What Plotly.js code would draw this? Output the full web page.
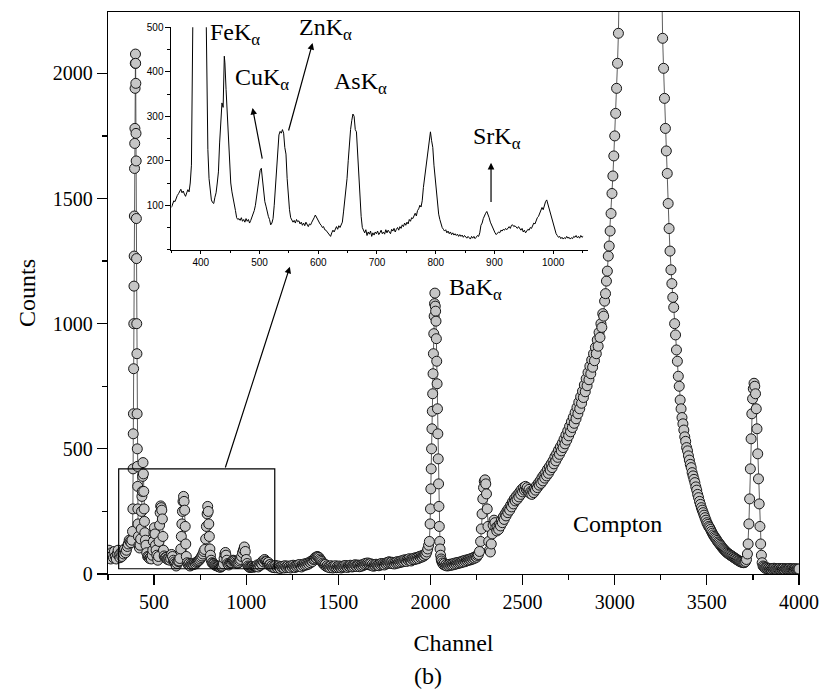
<!DOCTYPE html>
<html>
<head>
<meta charset="utf-8">
<script src="https://cdn.plot.ly/plotly-3.0.1.min.js"></script>
<style>html,body{margin:0;padding:0;background:#fff;}#chart{width:822px;height:690px;}</style>
</head>
<body>
<div id="chart"></div>
<script>
// ---- Main spectrum: [channel, counts] ----
const mainSpectrum = [
[250,80],[255,95],[260,70],[265,60],[270,85],[275,75],[280,65],[285,90],[290,70],[295,60],[300,80],[305,95],[310,75],[315,65],[320,85],[325,70],[330,90],[335,80],[340,100],[345,85],[350,95],[355,110],[360,120],[365,135],[370,130],[375,125],[380,135],[383,170],[385,260],
[386,420],[387,560],[388,640],[389,820],[390,1000],[391,1150],[392,1270],[393,1430],[394,1620],[395,1720],[396,1780],[397,1940],[398,2040],[399,2077],[400,2040],[401,1960],[402,1760],[403,1650],[404,1420],[405,1260],[406,1000],[407,880],[408,640],[409,500],[410,430],[411,350],[412,260],
[413,200],[415,150],[418,115],[421,104],[424,115],[427,140],[430,180],[432,250],[434,310],[436,330],[438,390],[440,445],[442,400],[444,330],[446,260],[448,210],[450,165],[453,135],[456,115],[460,85],[465,70],[470,68],[475,62],[480,66],[485,60],[490,75],[493,95],[496,130],[499,165],[502,185],[505,160],[508,115],[511,95],[515,75],[520,55],[524,70],[527,130],[530,195],[533,245],[536,272],[539,265],[542,255],[545,220],[548,150],[551,95],[555,72],[560,65],[565,66],[570,60],[575,58],[580,62],[585,55],[590,62],[595,78],[600,70],[605,55],[610,48],[615,42],[620,32],[625,42],[630,50],[635,52],[640,62],[645,100],[648,150],[651,200],[654,250],[657,290],[660,310],[663,290],[666,255],[669,190],[672,120],
[675,70],[680,45],[685,38],[690,42],[695,32],[700,40],[705,36],[710,41],[715,38],[720,44],[725,40],[730,46],[735,49],[740,52],[745,55],[750,60],[755,66],[760,72],[765,80],[770,90],[775,98],[780,140],[784,190],[788,240],[791,270],[794,250],[797,200],[800,150],[803,100],[806,75],[810,55],[815,45],[820,42],[825,40],[830,36],[835,34],[840,33],[845,31],[850,30],[855,28],[860,27],[865,30],[870,32],[876,40],[880,62],[884,80],[887,86],[890,75],[895,55],[900,42],[905,36],[910,42],[915,45],[920,46],[925,52],[930,55],[935,53],[940,50],[945,45],[950,42],[955,43],[960,46],[965,52],[970,58],[975,70],[980,85],[985,96],[990,108],[995,90],[1000,58],[1005,42],[1010,32],[1015,28],[1020,26],[1025,27],[1030,28],[1035,30],[1040,27],[1045,29],[1050,30],
[1055,30],[1060,36],[1065,28],[1070,38],[1075,34],[1080,44],[1085,40],[1090,52],[1095,48],[1100,58],[1105,52],[1110,50],[1115,44],[1120,46],[1125,36],[1130,38],[1135,30],[1140,33],[1145,26],[1150,31],[1155,25],[1160,34],[1165,28],[1170,24],[1175,32],[1180,27],[1185,22],[1190,30],[1195,26],[1200,31],[1205,24],[1210,33],[1215,28],[1220,25],[1225,32],[1230,27],[1235,30],[1240,24],[1245,33],[1250,28],[1255,35],[1260,30],[1265,26],[1270,33],[1275,29],[1280,36],[1285,31],[1290,38],[1295,32],[1300,28],[1305,36],[1310,33],[1315,40],[1320,35],[1325,42],[1330,37],[1335,44],[1340,40],[1345,48],[1350,45],[1355,52],[1360,50],[1365,58],[1370,60],[1375,66],[1380,64],[1385,70],[1390,68],[1395,66],[1400,60],[1405,55],[1410,50],[1415,44],[1420,40],[1425,36],[1430,38],[1435,30],[1440,33],[1445,27],[1450,30],[1455,25],[1460,33],[1465,28],[1470,24],[1475,31],[1480,27],[1485,33],[1490,25],[1495,30],[1500,26],[1505,32],[1510,28],[1515,24],[1520,30],[1525,27],[1530,33],[1535,28],[1540,34],[1545,29],[1550,26],[1555,32],[1560,30],[1565,35],[1570,31],[1575,28],[1580,34],[1585,30],[1590,37],[1595,33],[1600,30],[1605,36],[1610,34],[1615,29],[1620,35],[1625,31],[1630,37],[1635,34],[1640,40],[1645,37],[1650,43],[1655,39],[1660,44],[1665,40],[1670,36],[1675,41],[1680,34],[1685,38],[1690,31],[1695,36],[1700,33],[1705,39],[1710,34],[1715,37],[1720,33],[1725,40],[1730,36],[1735,42],[1740,38],[1745,41],[1750,36],[1755,43],[1760,40],[1765,46],[1770,43],[1775,49],[1780,46],[1785,42],[1790,47],[1795,41],[1800,45],[1805,40],[1810,47],[1815,43],[1820,49],[1825,44],[1830,50],[1835,46],[1840,52],[1845,48],[1850,54],[1855,50],[1860,57],[1865,53],[1870,50],[1875,58],[1880,55],[1885,61],[1890,56],[1895,52],[1900,60],[1905,57],[1910,63],[1915,58],[1920,65],[1925,60],[1930,67],[1935,62],[1940,70],[1945,66],[1950,72],[1955,68],[1960,75],[1965,72],[1970,80],[1975,78],[1980,88],[1985,100],[1990,115],
[1994,130],[1998,200],[2000,260],[2002,340],[2004,420],[2006,500],[2008,580],[2010,650],[2012,720],[2014,800],[2016,880],[2018,960],[2020,1030],[2022,1080],[2024,1122],[2026,1070],[2028,1050],[2030,1010],[2032,940],[2034,850],[2036,760],[2038,660],[2040,560],[2042,460],[2044,360],[2046,270],[2048,190],[2050,130],
[2052,100],[2055,75],[2058,60],[2060,52],[2065,44],[2070,38],[2075,42],[2080,34],[2085,38],[2090,32],[2095,37],[2100,33],[2105,39],[2110,35],[2115,40],[2120,36],[2125,42],[2130,38],[2135,44],[2140,40],[2145,46],[2150,42],[2155,47],[2160,44],[2165,49],[2170,46],[2175,52],[2180,48],[2185,54],[2190,50],[2195,56],[2200,53],[2205,58],[2210,55],[2215,60],[2220,57],[2225,63],[2230,60],[2235,66],[2240,63],[2245,70],[2250,67],[2255,74],[2260,78],
[2266,90],[2272,130],[2276,180],[2280,240],[2284,300],[2288,345],[2292,370],[2296,376],[2300,360],[2304,320],[2308,260],[2312,190],[2316,130],
[2320,95],[2325,88],[2330,120],[2335,160],[2340,195],[2345,215],[2350,205],[2355,185],[2360,172],[2365,190],[2370,178],[2375,200],[2380,192],[2385,215],[2390,205],[2395,228],[2400,218],[2405,240],[2410,232],[2415,252],[2420,245],[2425,262],[2430,255],[2435,275],[2440,268],[2445,288],[2450,280],[2455,300],[2460,292],[2465,310],[2470,298],[2475,318],[2480,308],[2485,328],[2490,318],[2495,338],[2500,328],[2505,345],[2510,335],[2515,350],[2520,338],[2525,345],[2530,330],[2535,338],[2540,322],[2545,330],[2550,318],[2555,332],[2560,325],[2565,342],[2570,335],[2575,352],[2580,345],[2585,362],[2590,355],[2595,372],[2600,362],[2605,385],[2610,372],[2615,395],[2620,383],[2625,405],[2630,392],[2635,418],[2640,402],[2645,428],[2650,415],[2655,440],[2660,425],[2665,452],[2670,440],[2675,468],[2680,452],[2685,480],[2690,466],[2695,495],[2700,478],[2705,508],[2710,492],[2715,522],[2720,505],[2725,538],[2730,520],[2735,555],[2740,535],[2745,572],[2750,552],[2755,590],[2760,568],[2765,608],[2770,585],[2775,626],[2780,602],[2785,645],[2790,620],[2795,665],[2800,640],[2805,686],[2810,660],[2815,708],[2820,682],[2825,730],[2830,705],[2835,755],[2840,728],[2845,780],[2850,752],[2855,805],[2860,776],[2865,830],[2870,800],[2875,855],[2880,826],[2885,880],[2890,852],[2895,905],[2900,880],[2905,935],[2910,910],[2915,965],[2920,945],[2925,1000],[2930,985],[2935,1040],[2940,1030],[2945,1090],[2950,1120],[2955,1170],[2960,1210],[2965,1270],[2970,1310],[2975,1370],[2980,1440],[2985,1520],[2990,1590],[2995,1670],[3000,1750],[3005,1840],[3010,1940],[3015,2040],[3020,2160],[3025,2290],[3030,2600],
[3250,2600],[3255,2330],[3260,2140],[3265,2020],[3270,1900],[3275,1780],[3280,1690],[3285,1600],[3290,1480],[3295,1380],[3300,1290],[3305,1215],[3310,1160],[3315,1105],[3320,1065],[3325,1000],[3330,955],[3335,895],[3340,850],[3345,790],[3350,750],[3355,695],[3360,660],[3365,625],[3370,600],[3375,575],[3380,548],[3385,530],[3390,505],[3395,492],[3400,472],[3405,455],[3410,438],[3415,425],[3420,405],[3425,392],[3430,378],[3435,365],[3440,348],[3445,335],[3450,318],[3455,305],[3460,290],[3465,278],[3470,265],[3475,255],[3480,245],[3485,235],[3490,225],[3495,215],[3500,205],[3505,198],[3510,190],[3515,185],[3520,178],[3525,170],[3530,163],[3535,156],[3540,150],[3545,145],[3550,140],[3555,134],[3560,128],[3565,124],[3570,119],[3575,114],[3580,109],[3585,104],[3590,100],[3595,96],[3600,92],[3605,88],[3610,85],[3615,82],[3620,79],[3625,77],[3630,74],[3635,72],[3640,69],[3645,67],[3650,64],[3655,62],[3660,59],[3665,57],[3670,54],[3675,52],[3680,50],[3685,48],[3690,47],[3695,46],[3700,45],[3705,46],[3710,50],[3715,58],
[3720,80],[3724,120],[3728,200],[3732,300],[3736,420],[3740,540],[3744,640],[3748,700],[3752,740],[3756,762],[3760,750],[3764,720],[3768,660],[3772,580],[3776,480],[3780,380],[3784,280],[3788,190],[3792,120],[3796,75],[3800,45],[3805,32],
[3810,28],[3815,24],[3820,22],[3825,25],[3830,21],[3835,23],[3840,20],[3845,22],[3850,19],[3855,22],[3860,20],[3865,23],[3870,19],[3875,21],[3880,18],[3885,21],[3890,20],[3895,22],[3900,19],[3905,21],[3910,20],[3915,22],[3920,18],[3925,21],[3930,20],[3935,19],[3940,21],[3945,20],[3950,22],[3955,19],[3960,20],[3965,21],[3970,19],[3975,20],[3980,21],[3985,19],[3990,20],[3995,19],[4000,20]
];
const mainChannel = mainSpectrum.map(p => p[0]);
const mainCounts = mainSpectrum.map(p => p[1]);

// ---- Inset spectrum (channel 350-1051) ----
const insetChannel = [
350,352,354,356,358,360,362,364,366,368,370,372,374,376,378,380,382,384,386,388,390,395,400,405,408,410,411,412,414,416,418,420,422,424,426,428,430,432,434,436,438,440,441,443,445,447,449,451,453,455,457,459,461,463,465,467,469,471,473,475,477,479,481,483,485,487,489,491,493,495,497,499,501,503,505,507,509,511,513,515,517,519,521,523,525,527,529,531,533,535,537,539,541,543,545,547,549,551,553,555,557,559,561,563,565,567,569,571,573,575,577,579,581,583,585,587,589,591,593,595,597,599,601,603,605,607,609,611,613,615,617,619,621,623,625,627,629,631,633,635,637,639,641,643,645,647,649,651,653,655,657,659,661,663,665,667,669,671,673,675,677,679,681,683,685,687,689,691,693,695,697,699,701,703,705,707,709,711,713,715,717,719,721,723,725,727,729,731,733,735,737,739,741,743,745,747,749,751,753,755,757,759,761,763,765,767,769,771,773,775,777,779,781,783,785,787,789,791,793,795,797,799,801,803,805,807,809,811,813,815,817,819,821,823,825,827,829,831,833,835,837,839,841,843,845,847,849,851,853,855,857,859,861,863,865,867,869,871,873,875,877,879,881,883,885,887,889,891,893,895,897,899,901,903,905,907,909,911,913,915,917,919,921,923,925,927,929,931,933,935,937,939,941,943,945,947,949,951,953,955,957,959,961,963,965,967,969,971,973,975,977,979,981,983,985,987,989,991,993,995,997,999,1001,1003,1005,1007,1009,1011,1013,1015,1017,1019,1021,1023,1025,1027,1029,1031,1033,1035,1037,1039,1041,1043,1045,1047,1049,1051
];
const insetCounts = [
95,102,110,108,118,122,126,133,136,128,132,125,120,128,135,130,150,190,420,640,1000,1720,2040,1260,640,430,300,225,160,128,112,106,104,118,128,150,175,240,300,330,320,435,420,360,305,250,190,150,130,118,100,88,72,68,70,66,72,64,68,62,70,64,68,60,66,72,78,88,100,118,140,162,178,183,160,128,108,98,85,75,68,56,60,70,100,140,190,240,258,266,262,270,262,230,215,160,120,90,72,68,62,66,60,68,63,65,58,62,55,60,54,62,56,52,58,56,62,66,72,78,72,70,62,58,55,50,52,45,44,40,36,32,30,38,44,40,48,52,46,54,50,58,62,85,110,130,160,200,240,270,290,305,300,270,265,220,160,110,75,50,42,38,45,32,40,35,42,30,38,33,40,36,42,34,38,44,36,40,35,45,38,44,40,36,46,42,48,40,46,50,44,52,48,56,52,60,55,62,58,68,64,72,70,78,82,76,88,92,100,96,110,140,160,190,200,225,250,265,245,230,190,160,130,100,80,68,58,50,46,42,45,38,42,36,40,34,38,33,36,32,35,30,34,30,33,28,32,30,26,30,28,24,30,26,30,25,28,32,30,38,55,60,70,78,82,86,80,72,62,55,48,42,38,34,36,40,38,44,42,46,44,48,45,50,52,48,55,56,52,54,50,48,52,46,44,48,40,44,38,42,46,44,50,48,55,60,58,66,72,75,82,88,95,90,100,108,112,102,92,85,70,60,52,42,36,32,28,30,25,28,24,27,25,30,26,28,24,27,25,30,28,32,27,30,26,32,28,30
];

// ---- Tick labels ----
const mainTickVals = [500,1000,1500,2000,2500,3000,3500,4000];
const countTickVals = [0,500,1000,1500,2000];
const insetXTicks = [400,500,600,700,800,900,1000];
const insetYTicks = [100,200,300,400,500];

// pixel -> paper helpers for the plot area (108.3..798.7, 11.7..574.3)
const PL = 108.3, PR = 798.7, PT = 11.7, PB = 574.3;
const px = X => (X - PL) / (PR - PL);
const py = Y => (PB - Y) / (PB - PT);

const serif = 'Times New Roman';
const sans = 'Arial';

const mainTrace = {
  x: mainChannel, y: mainCounts, type: 'scatter', mode: 'lines+markers',
  line: {color: '#333', width: 0.8},
  marker: {size: 10, color: '#c6c6c6', line: {color: '#151515', width: 1}},
  xaxis: 'x', yaxis: 'y', showlegend: false
};
const insetTrace = {
  x: insetChannel, y: insetCounts, type: 'scatter', mode: 'lines',
  line: {color: '#000', width: 1},
  xaxis: 'x2', yaxis: 'y2', showlegend: false
};

function label(text, X, Y) {
  return {text: text, xref: 'paper', yref: 'paper', x: px(X), y: py(Y),
    xanchor: 'left', yanchor: 'top', showarrow: false,
    font: {family: serif, size: 24, color: '#000'}};
}
function arrow(hx, hy, tx, ty) {
  return {text: '', xref: 'paper', yref: 'paper', x: px(hx), y: py(hy),
    ax: tx - hx, ay: ty - hy, showarrow: true, arrowhead: 2, arrowsize: 1.1,
    arrowwidth: 1.2, arrowcolor: '#000', standoff: 0, startstandoff: 0};
}
const sub = s => '<sub>' + s + '</sub>';

const layout = {
  width: 822, height: 690,
  font: {family: serif, size: 20, color: '#000'},
  margin: {l: PL, r: 822 - PR, t: PT, b: 690 - PB, pad: 0},
  paper_bgcolor: '#fff', plot_bgcolor: 'rgba(0,0,0,0)',
  showlegend: false,
  xaxis: {
    range: [250, 4000], tickvals: mainTickVals, ticks: 'outside', ticklen: 10, tickwidth: 1.2,
    tickcolor: '#000', showline: true, linecolor: '#000', linewidth: 1.3, mirror: true,
    showgrid: false, zeroline: false, automargin: false,
    tickfont: {family: serif, size: 20, color: '#000'},
    minor: {tickvals: [250,750,1250,1750,2250,2750,3250,3750], ticks: 'outside', ticklen: 5, tickwidth: 1.2, tickcolor: '#000', showgrid: false},
    title: {text: 'Channel', font: {family: serif, size: 24, color: '#000'}, standoff: 22}
  },
  yaxis: {
    range: [0, 2245], tickvals: countTickVals, ticks: 'outside', ticklen: 10, tickwidth: 1.2,
    tickcolor: '#000', showline: true, linecolor: '#000', linewidth: 1.3, mirror: true,
    showgrid: false, zeroline: false, automargin: false,
    tickfont: {family: serif, size: 20, color: '#000'},
    minor: {tickvals: [250,750,1250,1750,2250], ticks: 'outside', ticklen: 5, tickwidth: 1.2, tickcolor: '#000', showgrid: false},
    title: {text: 'Counts', font: {family: serif, size: 24, color: '#000'}, standoff: 10}
  },
  xaxis2: {
    domain: [px(171.7), px(588.3)], anchor: 'y2', range: [350, 1060],
    tickvals: insetXTicks, ticks: 'outside', ticklen: 3, tickwidth: 1, tickcolor: '#000',
    showline: true, linecolor: '#000', linewidth: 1, mirror: false,
    showgrid: false, zeroline: false,
    tickfont: {family: sans, size: 10, color: '#000'},
    minor: {dtick: 50, tick0: 350, ticks: 'outside', ticklen: 2, tickwidth: 1, tickcolor: '#000', showgrid: false}
  },
  yaxis2: {
    domain: [py(249.7), py(27)], anchor: 'x2', range: [0, 500],
    tickvals: insetYTicks, ticks: 'outside', ticklen: 5, tickwidth: 1, tickcolor: '#000',
    showline: true, linecolor: '#000', linewidth: 1, mirror: false,
    showgrid: false, zeroline: false,
    tickfont: {family: sans, size: 10, color: '#000'},
    minor: {dtick: 50, ticks: 'outside', ticklen: 3, tickwidth: 1, tickcolor: '#000', showgrid: false}
  },
  shapes: [
    {type: 'rect', xref: 'x', yref: 'y', x0: 308, x1: 1155, y0: 21, y1: 420,
     line: {color: '#000', width: 1.2}, fillcolor: 'rgba(0,0,0,0)', layer: 'above'}
  ],
  annotations: [
    label('FeK' + sub('α'), 208, 17),
    label('ZnK' + sub('α'), 297, 12),
    label('CuK' + sub('α'), 233, 62),
    label('AsK' + sub('α'), 332, 66),
    label('SrK' + sub('α'), 471, 121),
    label('BaK' + sub('α'), 447, 272),
    label('Compton', 571, 509),
    arrow(252.7, 107.7, 262.7, 160),
    arrow(312.7, 42.7, 288.3, 131.7),
    arrow(491, 162.7, 491, 203.3),
    arrow(290, 266.7, 225, 469),
    {text: '(b)', xref: 'paper', yref: 'paper', x: px(428), y: py(676),
     xanchor: 'center', yanchor: 'middle', showarrow: false,
     font: {family: serif, size: 24, color: '#000'}}
  ]
};

Plotly.newPlot('chart', [mainTrace, insetTrace], layout, {staticPlot: true, displayModeBar: false});
</script>
</body>
</html>
